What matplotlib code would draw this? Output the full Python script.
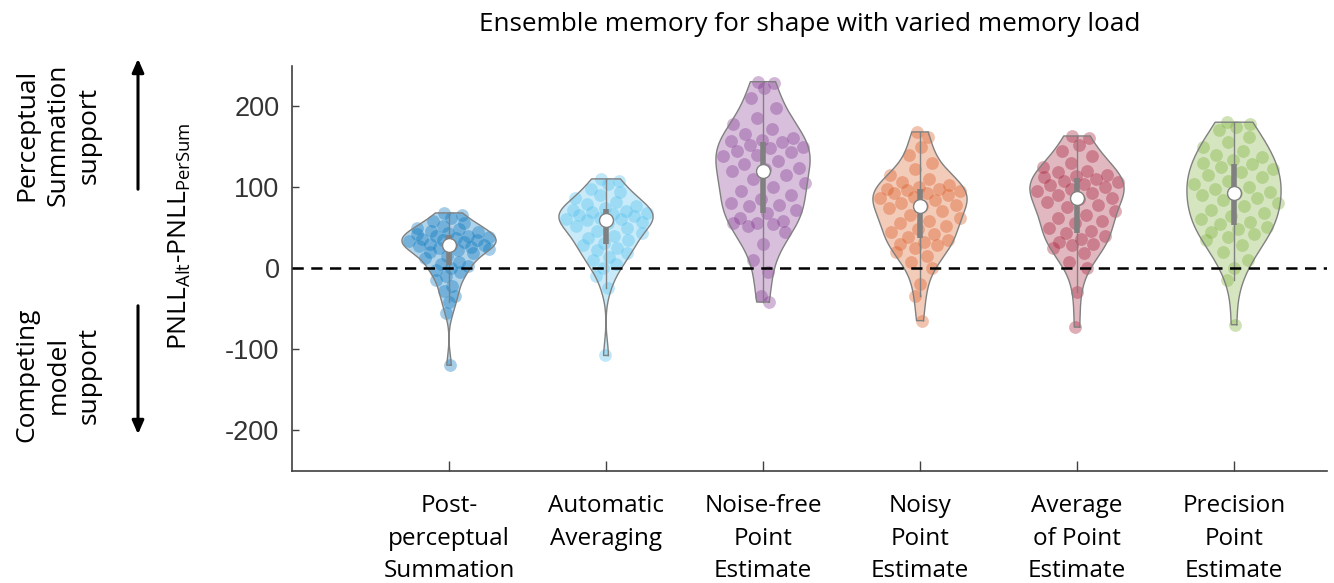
import numpy as np
import matplotlib
matplotlib.use("Agg")
import matplotlib.pyplot as plt

# ---------------- data ----------------
categories = ["Post-\nperceptual\nSummation", "Automatic\nAveraging", "Noise-free\nPoint\nEstimate",
              "Noisy\nPoint\nEstimate", "Average\nof Point\nEstimate", "Precision\nPoint\nEstimate"]

post_perceptual = [68, 66, 62, 58, 55, 52, 50, 48, 46, 45, 43, 42, 40, 39, 38, 37, 36, 35, 34, 33, 32, 30,
                   29, 28, 27, 26, 25, 24, 22, 20, 18, 15, 12, 8, 5, 2, 0, -2, -5, -10, -15, -22, -28, -35,
                   -42, -55, -120]
automatic_avg = [110, 108, 104, 98, 94, 90, 86, 82, 79, 76, 74, 72, 70, 69, 68, 67, 66, 64, 62, 61,
                 60, 59, 57, 55, 52, 49, 46, 43, 40, 37, 34, 31, 28, 25, 22, 18, 14, 10, 5, 0, -10, -25, -108]
noise_free = [230, 228, 222, 210, 198, 185, 178, 172, 165, 160, 158, 157, 155, 152, 150, 148, 145, 143, 140,
              138, 132, 128, 124, 122, 120, 115, 110, 105, 100, 95, 90, 85, 80, 78, 76, 72, 68, 62, 58, 56,
              55, 54, 52, 45, 30, 10, -5, -35, -42]
noisy = [168, 162, 150, 140, 130, 122, 115, 110, 106, 103, 100, 98, 97, 96, 95, 93, 92, 90, 88, 86, 84, 80,
         78, 76, 74, 70, 66, 62, 58, 55, 52, 48, 45, 42, 38, 35, 32, 30, 28, 25, 20, 15, 8, 0, -20, -35, -65]
average_point = [163, 160, 152, 145, 138, 130, 125, 120, 118, 115, 113, 112, 110, 108, 106, 104, 102, 100, 97,
                 95, 92, 90, 87, 85, 82, 78, 75, 70, 65, 62, 58, 55, 50, 46, 43, 40, 36, 32, 30, 28, 25, 18,
                 8, 0, -30, -73]
precision = [180, 178, 174, 170, 162, 155, 150, 145, 140, 137, 133, 130, 128, 125, 122, 118, 115, 112, 108, 104,
             100, 97, 94, 92, 90, 87, 84, 80, 76, 72, 68, 64, 60, 57, 54, 51, 48, 45, 42, 38, 34, 28, 20,
             10, 0, -15, -70]

groups = [post_perceptual, automatic_avg, noise_free, noisy, average_point, precision]
colors = [(0.0, 0.447, 0.741), (0.301, 0.745, 0.933), (0.494, 0.184, 0.556),
          (0.85, 0.325, 0.098), (0.635, 0.078, 0.184), (0.466, 0.674, 0.188)]
yticks = [-200, -100, 0, 100, 200]

title = "Ensemble memory for shape with varied memory load"

# ---------------- figure ----------------
W, H = 1334, 583
fig = plt.figure(figsize=(W / 100, H / 100), dpi=100)
ax_l, ax_r, ax_t, ax_b = 292, 1327, 65.5, 470.5
ax = fig.add_axes([ax_l / W, (H - ax_b) / H, (ax_r - ax_l) / W, (ax_b - ax_t) / H])

spacing = 157.0
ax.set_xlim(0, (ax_r - ax_l) / spacing)
ax.set_ylim(-250, 250)

label_font = "Open Sans"
half_width = 0.3


def kde(data, grid):
    data = np.asarray(data, float)
    n = len(data)
    med = np.median(data)
    sig = np.median(np.abs(data - med)) / 0.6745
    bw = sig * (4.0 / (3.0 * n)) ** 0.2
    z = (grid[:, None] - data[None, :]) / bw
    return np.exp(-0.5 * z ** 2).sum(axis=1) / (n * bw * np.sqrt(2 * np.pi))


for i, (vals, col) in enumerate(zip(groups, colors)):
    pos = i + 1
    d = np.asarray(vals, float)
    grid = np.linspace(d.min(), d.max(), 200)
    dens = kde(d, grid)
    scale = half_width / dens.max()
    w = dens * scale
    # points with deterministic jitter inside the violin
    jstr = np.interp(d, grid, w)
    k = np.arange(len(d))
    jit = ((k * 0.6180339887 + 0.31) % 1.0) * 2 - 1
    ax.scatter(pos + jit * jstr * 0.95, d, s=85, color=col, alpha=0.35, linewidths=0, zorder=2)
    # violin body
    xs = np.concatenate([pos + w, (pos - w)[::-1]])
    ys = np.concatenate([grid, grid[::-1]])
    ax.fill(xs, ys, facecolor=col, alpha=0.3, edgecolor="none", zorder=3)
    ax.plot(np.append(xs, xs[0]), np.append(ys, ys[0]), color=(0.5, 0.5, 0.5), lw=1.0, zorder=4)
    # whisker / box / median
    q1, med, q3 = np.percentile(d, [25, 50, 75])
    iqr = q3 - q1
    up = d[d <= q3 + 1.5 * iqr].max()
    lo = d[d >= q1 - 1.5 * iqr].min()
    ax.plot([pos, pos], [lo, up], color=(0.5, 0.5, 0.5), lw=1.0, zorder=5)
    ax.plot([pos, pos], [q1, q3], color=(0.5, 0.5, 0.5), lw=4.0, solid_capstyle="butt", zorder=6)
    ax.plot([pos], [med], marker="o", ms=10, mfc="white", mec=(0.5, 0.5, 0.5), mew=1.0, zorder=7)

ax.axhline(0, color="black", lw=1.8, ls=(0, (4.5, 3)), zorder=8)

# axes styling
for s in ["top", "right"]:
    ax.spines[s].set_visible(False)
for s in ["left", "bottom"]:
    ax.spines[s].set_color("#404040")
    ax.spines[s].set_linewidth(1.2)
ax.set_yticks(yticks)
ax.set_yticklabels([str(v) for v in yticks], family="Liberation Sans", fontsize=19.5, color="#333333")
ax.set_xticks(range(1, len(categories) + 1))
ax.set_xticklabels(categories, family=label_font, fontsize=17.5, color="black", linespacing=1.47)
ax.tick_params(axis="y", direction="in", length=5, width=1.0, color="#404040", pad=9)
ax.tick_params(axis="x", direction="in", length=7, width=1.0, color="#404040", pad=17)

ax.set_title(title, family=label_font, fontsize=18.8, color="black", pad=25)

# y label
fig.text(180 / W, (H - 236) / H, r"PNLL$_{\mathregular{Alt}}$-PNLL$_{\mathregular{PerSum}}$",
         rotation=90, ha="center", va="center", family="Open Sans", fontsize=19)

# side annotations
fig.text(58 / W, (H - 135) / H, "Perceptual\nSummation\nsupport", rotation=90, ha="center", va="center",
         family=label_font, fontsize=19, linespacing=1.3)
fig.text(58 / W, (H - 375) / H, "Competing\nmodel\nsupport", rotation=90, ha="center", va="center",
         family=label_font, fontsize=19, linespacing=1.3)
arrow_kw = dict(arrowstyle="-|>,head_length=0.8,head_width=0.35", color="black", lw=2.2)
ax.annotate("", xy=(138, H - 56), xytext=(138, H - 192), xycoords="figure pixels",
            textcoords="figure pixels", arrowprops=arrow_kw, annotation_clip=False)
ax.annotate("", xy=(138, H - 437), xytext=(138, H - 303), xycoords="figure pixels",
            textcoords="figure pixels", arrowprops=arrow_kw, annotation_clip=False)

fig.savefig("out.png", dpi=100)
